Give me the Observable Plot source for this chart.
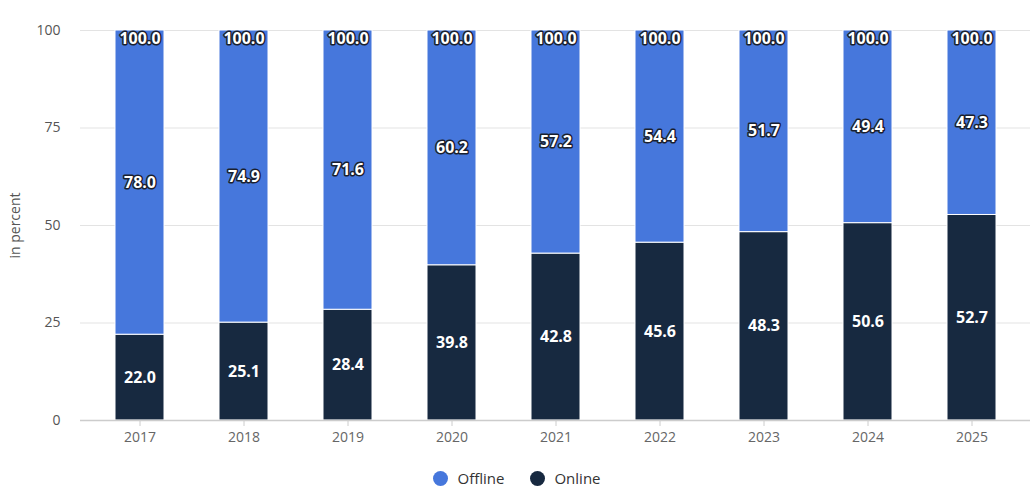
<!DOCTYPE html>
<html>
<head>
<meta charset="utf-8">
<script src="https://cdn.jsdelivr.net/npm/d3@7"></script>
<script src="https://cdn.jsdelivr.net/npm/@observablehq/plot@0.6"></script>
<style>
  html, body { margin: 0; padding: 0; background: #fff; }
  body { width: 1034px; height: 497px; overflow: hidden; font-family: "Open Sans", sans-serif; }
  #legend { display: flex; justify-content: center; align-items: center; gap: 26px; height: 46px; font-size: 15px; color: #333; padding-left: 0px; }
  #legend .item { display: flex; align-items: center; gap: 9px; }
  #legend .dot { width: 15px; height: 15px; border-radius: 50%; display: inline-block; }
</style>
</head>
<body>
<div id="chart"></div>
<div id="legend"></div>
<script>
const years = ["2017","2018","2019","2020","2021","2022","2023","2024","2025"];
const online = [22.0, 25.1, 28.4, 39.8, 42.8, 45.6, 48.3, 50.6, 52.7];
const offline = [78.0, 74.9, 71.6, 60.2, 57.2, 54.4, 51.7, 49.4, 47.3];
const totals = [100.0, 100.0, 100.0, 100.0, 100.0, 100.0, 100.0, 100.0, 100.0];
const seriesNames = ["Online", "Offline"];
const seriesColors = ["#172940", "#4677dc"];
const yTicks = [0, 25, 50, 75, 100];

const rows = [];
years.forEach((y, i) => {
  rows.push({year: y, series: "Online", value: online[i]});
  rows.push({year: y, series: "Offline", value: offline[i]});
});
const totalRows = years.map((y, i) => ({year: y, value: totals[i]}));

const stackOpts = {x: "year", y: "value", z: "series", order: seriesNames};

const chart = Plot.plot({
  width: 1034,
  height: 455,
  marginLeft: 80,
  marginRight: 4,
  marginTop: 30,
  marginBottom: 35,
  style: {fontFamily: "'Open Sans', sans-serif", fontSize: "14px", color: "#666", background: "#fff"},
  x: {domain: years, paddingInner: 0.53, paddingOuter: 0.32, label: null},
  y: {domain: [0, 100], ticks: yTicks, label: null},
  color: {domain: seriesNames, range: seriesColors},
  marks: [
    Plot.gridY(yTicks, {stroke: "#e3e3e3", strokeOpacity: 1}),
    Plot.axisY({ticks: yTicks, tickSize: 0, tickPadding: 20, label: "in percent", labelAnchor: "center", labelArrow: "none", labelOffset: 70, fill: "#555"}),
    Plot.axisX({tickSize: 6, stroke: "#ccc", fill: "#666", tickPadding: 6}),
    Plot.barY(rows, Plot.stackY({...stackOpts, fill: "series", stroke: "white", strokeWidth: 1})),
    Plot.ruleY([0], {stroke: "#ccc", strokeWidth: 1.5}),
    Plot.text(rows, Plot.stackY({...stackOpts, text: d => d.series === "Offline" ? d.value.toFixed(1) : null, fill: "white", stroke: "#1a1f2e", strokeWidth: 3, fontWeight: "bold", fontSize: 16})),
    Plot.text(rows, Plot.stackY({...stackOpts, text: d => d.series === "Online" ? d.value.toFixed(1) : null, fill: "white", fontWeight: "bold", fontSize: 16})),
    Plot.text(totalRows, {x: "year", y: "value", text: d => d.value.toFixed(1), dy: 8, fill: "white", stroke: "#1a1f2e", strokeWidth: 3, fontWeight: "bold", fontSize: 16})
  ]
});
document.getElementById("chart").appendChild(chart);

const legend = document.getElementById("legend");
const legendOrder = ["Offline", "Online"];
legendOrder.forEach(name => {
  const item = document.createElement("div");
  item.className = "item";
  const dot = document.createElement("span");
  dot.className = "dot";
  dot.style.background = seriesColors[seriesNames.indexOf(name)];
  const label = document.createElement("span");
  label.textContent = name;
  item.appendChild(dot);
  item.appendChild(label);
  legend.appendChild(item);
});
</script>
</body>
</html>
